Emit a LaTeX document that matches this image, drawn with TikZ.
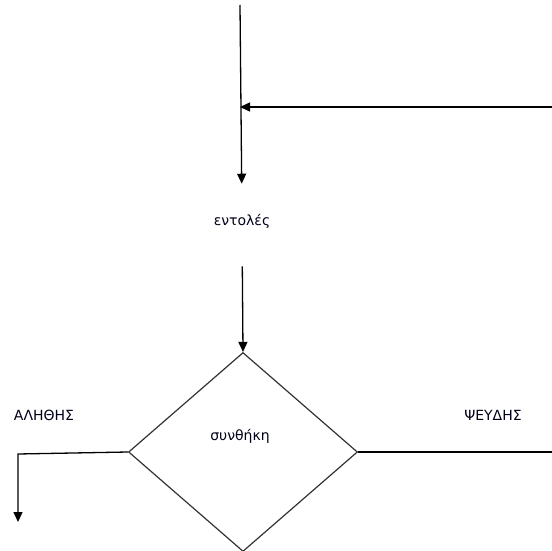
\documentclass[tikz,border=0pt]{standalone}
\usepackage{fontspec}
\setmainfont{DejaVu Sans}
\usetikzlibrary{shapes.geometric,arrows.meta}
\begin{document}
\begin{tikzpicture}[x=1pt,y=-1pt,
  line/.style={draw=black,line width=1.3pt},
  arr/.style={line,-{Triangle[length=10pt,width=9pt]}},
  lbl/.style={inner sep=0pt,font=\fontsize{14}{16}\selectfont,text=black!90!blue},
  decision/.style={diamond,draw=black!80,line width=1.2pt,minimum width=229pt,minimum height=199pt,inner sep=0pt}]
\useasboundingbox (0,0) rectangle (552,551);
\fill[white] (0,0) rectangle (552,551);
\coordinate (start) at (240,5);
\coordinate (rin) at (552,107);
\coordinate (join) at (240,107);
\node[lbl] (entol) at (242,221) {εντολές};
\node[decision] (cond) at (243,452) {};
\node[lbl] (synth) at (240,436) {συνθήκη};
\node[lbl] (true) at (44,415) {ΑΛΗΘΗΣ};
\node[lbl] (false) at (493,415) {ΨΕΥΔΗΣ};
\coordinate (tl) at (18,454);
\coordinate (tend) at (18,522);
\coordinate (fr) at (552,452);
\draw[arr,shorten >=30pt] (start) -- (entol.north);
\draw[arr] (rin) -- (join);
\draw[arr,shorten <=38pt] (entol.south) -- (cond.north);
\draw[arr] (cond.west) -- (tl) -- (tend);
\draw[line] (cond.east) -- (fr);
\end{tikzpicture}
\end{document}
